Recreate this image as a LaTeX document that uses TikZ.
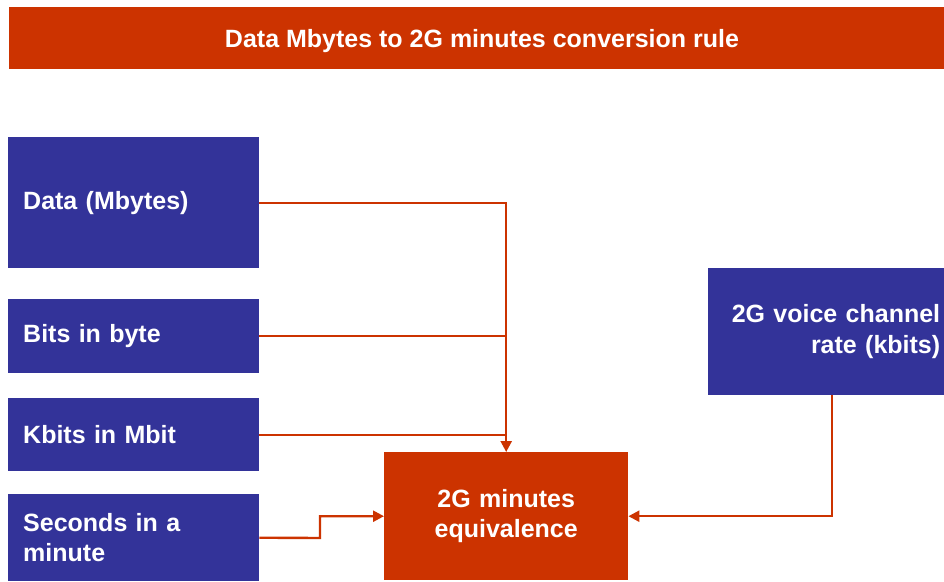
\documentclass[tikz,border=0pt]{standalone}
\usepackage{fontspec}
\setmainfont{Liberation Sans}
\usetikzlibrary{arrows.meta}
\definecolor{cred}{HTML}{CC3300}
\definecolor{cblue}{HTML}{333399}
\begin{document}
\begin{tikzpicture}[x=1pt,y=1pt,
  lbl/.style={font=\fontsize{25}{30.5}\selectfont\bfseries, text=white},
  bluebox/.style={lbl, fill=cblue, draw=none, rectangle, anchor=north west, inner ysep=0pt},
  leftbox/.style={bluebox, minimum width=251, inner xsep=15pt, text width=221, align=left},
  redbox/.style={lbl, fill=cred, draw=none, rectangle, anchor=north west, inner sep=0pt},
  conn/.style={draw=cred, line width=2.4pt},
  arr/.style={conn, -{Triangle[length=11pt,width=11pt]}}
]
\useasboundingbox (0,0) rectangle (944,-581);
\fill[white] (0,0) rectangle (944,-581);
% title
\node[redbox, minimum width=935, minimum height=62] (title) at (9,-7) {};
\node[lbl, anchor=base] (titletext) at (482,-47) {Data Mbytes to 2G minutes conversion rule};
% left boxes
\node[leftbox, minimum height=131] (data) at (8,-137) {Data (Mbytes)};
\node[leftbox, minimum height=74] (bits) at (8,-299) {Bits in byte};
\node[leftbox, minimum height=73] (kbits) at (8,-398) {Kbits in Mbit};
\node[leftbox, minimum height=87] (sec) at (8,-494) {Seconds in a\\minute};
% center box
\node[redbox, minimum width=244, minimum height=128, text width=244, align=center] (eq) at (384,-452) {2G minutes\\equivalence};
% right box
\node[bluebox, minimum width=236, minimum height=127, inner xsep=4pt, text width=228, align=right] (voice) at (708,-268) {2G voice channel\\rate (kbits)};
% connectors
\draw[arr] (data.east) -| (eq.north);
\draw[conn] (bits.east) -- (bits.east -| eq.north);
\draw[conn] (kbits.east) -- (kbits.east -| eq.north);
\coordinate (secbend) at (320,-538);
\draw[arr] (sec.east) -- (secbend) |- (eq.west);
\coordinate (voicedrop) at (832,-395);
\draw[arr] (voicedrop) |- (eq.east);
\end{tikzpicture}
\end{document}
